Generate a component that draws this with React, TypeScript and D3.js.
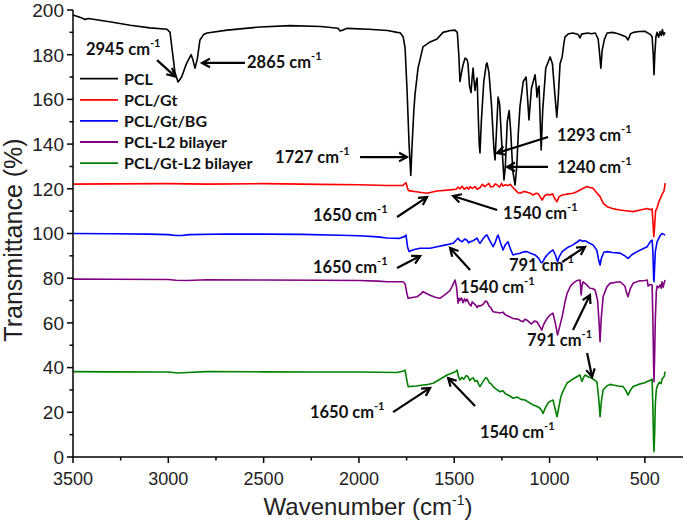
import React from 'react';
import * as d3 from 'd3';

const W = 685;
const H = 521;

const xTicks = [3500, 3000, 2500, 2000, 1500, 1000, 500];
const xMinor = [3250, 2750, 2250, 1750, 1250, 750];
const yTicks = [0, 20, 40, 60, 80, 100, 120, 140, 160, 180, 200];
const yMinor = [10, 30, 50, 70, 90, 110, 130, 150, 170, 190];

const seriesNames = ['PCL', 'PCL/Gt', 'PCL/Gt/BG', 'PCL-L2 bilayer', 'PCL/Gt-L2 bilayer'];
const seriesColors = ['#000000', '#ff0000', '#0000ff', '#800080', '#008000'];

type P = [number, number];

const pcl: P[] = [
  [3500, 197.8], [3460, 196.6], [3437, 195.8], [3420, 196.2], [3300, 194.6], [3200, 193.2], [3096, 192], [3007, 191.4],
  [2991, 190], [2981, 183], [2965, 172], [2949, 167.8], [2930, 170], [2905, 176], [2880, 180], [2872, 178],
  [2860, 174], [2848, 178], [2834, 186.6], [2815, 189], [2797, 189.7], [2692, 191], [2519, 192.4], [2361, 193],
  [2200, 192.6], [2110, 191.8], [2099, 190.6], [2080, 191.2], [2062, 191.8], [1950, 191.4], [1850, 190.8],
  [1800, 190], [1784, 189.8], [1768, 188], [1758, 183], [1748, 165], [1737, 140], [1728, 126], [1721, 140],
  [1712, 155], [1706, 162], [1690, 174], [1664, 183.5], [1627, 185.7], [1590, 187], [1559, 190], [1520, 190.8],
  [1496, 191], [1484, 190], [1476, 180], [1470, 168], [1462, 172], [1454, 175.4], [1443, 178.5], [1433, 177.8],
  [1428, 176], [1420, 166], [1412, 163], [1406, 170], [1401, 174], [1396, 168], [1391, 164], [1385, 168],
  [1380, 169.6], [1375, 155], [1369, 140], [1365, 136], [1358, 150], [1345, 168], [1332, 175.8], [1328, 176.3],
  [1318, 172], [1305, 158], [1292, 138], [1286, 132.9], [1279, 145], [1270, 161], [1262, 158], [1252, 142],
  [1239, 124], [1232, 130], [1222, 150], [1212, 155], [1204, 146], [1193, 128], [1181, 121.7], [1172, 130],
  [1164, 145], [1155, 157], [1138, 168], [1123, 170], [1115, 160], [1108, 150.8], [1095, 165], [1076, 171],
  [1070, 166], [1066, 161], [1060, 165], [1055, 166], [1049, 150], [1044, 137.4], [1036, 155], [1020, 174],
  [997, 179], [985, 176], [972, 162], [962, 152], [955, 160], [945, 176], [934, 179], [925, 185], [919, 188],
  [900, 189.4], [877, 189.7], [850, 189], [840, 187.5], [832, 189.2], [800, 189.7], [780, 189.4], [760, 189.7],
  [745, 187], [737, 180], [731, 174], [724, 182], [712, 187], [698, 189.7], [670, 190], [640, 189.4],
  [600, 188], [588, 186.6], [575, 189.4], [560, 190], [530, 190.4], [500, 190.5], [470, 189], [462, 188],
  [456, 180], [452, 171], [448, 180], [442, 188], [436, 190], [428, 187.8], [420, 190.4], [414, 188.6],
  [408, 191.2], [402, 188.8], [394, 190]
];

const pclGt: P[] = [
  [3500, 122.1], [3300, 122.2], [3000, 122.3], [2800, 122.1], [2500, 122.3], [2200, 122], [2000, 121.8],
  [1853, 121.5], [1769, 121.5], [1758, 122.4], [1753, 122.7], [1746, 120.5], [1740, 119.2], [1700, 118.7],
  [1643, 118], [1590, 119], [1522, 119.5], [1490, 119.8], [1480, 120.8], [1470, 120], [1459, 121.2],
  [1448, 119.8], [1433, 120.7], [1424, 119.8], [1417, 121], [1405, 120.2], [1390, 121], [1380, 119.8],
  [1365, 120.5], [1352, 122], [1340, 121], [1318, 122.4], [1310, 120.8], [1296, 121], [1285, 122.2],
  [1275, 121.7], [1262, 120.8], [1252, 122.4], [1244, 121.2], [1232, 121.8], [1218, 121.5], [1205, 122],
  [1197, 121], [1180, 119.5], [1165, 118.2], [1155, 118], [1135, 118.8], [1118, 118.5], [1100, 118],
  [1087, 117.2], [1070, 118], [1060, 117.8], [1050, 116.5], [1039, 115], [1025, 117], [1013, 117.5],
  [997, 117.2], [985, 117.8], [975, 116], [961, 114.2], [950, 116.5], [934, 117.2], [910, 117.6],
  [877, 118], [860, 118.6], [840, 119.5], [815, 120.6], [803, 121], [790, 120.6], [772, 120.3],
  [755, 118.5], [735, 116.5], [718, 113.5], [698, 112], [670, 111.2], [650, 110.8], [630, 110.5],
  [600, 110.2], [562, 109.8], [530, 110.4], [500, 111], [488, 111.2], [470, 110.6], [462, 111],
  [457, 104], [453, 98.6], [449, 103], [444, 110], [436, 111.5], [425, 114.5], [410, 117.5], [400, 119],
  [396, 121], [394, 122.5]
];

const pclGtBg: P[] = [
  [3500, 100], [3300, 99.9], [3100, 99.7], [3000, 99.5], [2960, 99.1], [2930, 99.1], [2890, 99.5],
  [2700, 99.8], [2500, 99.7], [2300, 99.6], [2100, 99.2], [2000, 99], [1900, 98.5], [1853, 98],
  [1790, 97.8], [1762, 98.6], [1753, 99.3], [1745, 94], [1737, 91.9], [1710, 92.8], [1679, 93.4],
  [1627, 93.4], [1590, 94.1], [1550, 94.8], [1522, 95.3], [1506, 95.6], [1490, 97], [1480, 97.9],
  [1470, 96.8], [1459, 96.3], [1445, 97.5], [1433, 97], [1425, 95.8], [1417, 96.3], [1400, 96.8],
  [1390, 97.4], [1380, 97.9], [1372, 96.5], [1365, 95.6], [1350, 97.5], [1335, 99.1], [1328, 99.3],
  [1315, 97], [1296, 94.1], [1285, 96], [1275, 98.6], [1270, 99.3], [1258, 96], [1244, 92.6],
  [1232, 95], [1218, 96.3], [1205, 93], [1192, 90.4], [1175, 90.8], [1155, 91.2], [1135, 91.8],
  [1118, 91.9], [1100, 91.2], [1076, 90.4], [1058, 89], [1044, 87], [1039, 86.9], [1025, 89],
  [1013, 90.4], [997, 91.8], [982, 92.6], [970, 90.5], [958, 87.4], [950, 89.5], [934, 91.9],
  [910, 93.5], [877, 94.9], [855, 96.2], [840, 97.1], [825, 96.5], [815, 96.8], [803, 96.3],
  [790, 95.6], [772, 94.9], [752, 92.5], [742, 88], [735, 85.9], [728, 89], [715, 91.6], [698, 91.9],
  [670, 91.5], [630, 91.2], [605, 90], [588, 88.9], [570, 90.4], [541, 91.9], [510, 93.2], [488, 94.1],
  [470, 96.5], [462, 97.1], [458, 92], [454, 80], [452, 78.4], [449, 85], [445, 92], [436, 96.3],
  [420, 99], [410, 100], [400, 99.6], [394, 99.3]
];

const pclL2: P[] = [
  [3500, 79.6], [3300, 79.5], [3000, 79.4], [2960, 79.1], [2900, 79], [2800, 79.3], [2500, 79.2],
  [2200, 79.1], [2000, 79], [1900, 78.7], [1853, 78.4], [1769, 78.4], [1758, 77.5], [1748, 73],
  [1742, 71], [1720, 71.4], [1695, 71.7], [1675, 73], [1664, 74], [1650, 73.4], [1627, 72.4],
  [1600, 71.5], [1575, 71], [1550, 72.5], [1522, 74.5], [1505, 77.5], [1496, 79.2], [1488, 76],
  [1480, 68.8], [1474, 71], [1470, 70], [1462, 71.2], [1454, 69], [1446, 70.8], [1440, 69.6],
  [1433, 70.6], [1422, 68.6], [1412, 67.6], [1406, 69.4], [1401, 69], [1390, 68.2], [1380, 66.9],
  [1372, 67.8], [1365, 67.5], [1350, 68.2], [1336, 69.8], [1328, 69.5], [1318, 67.6], [1310, 67],
  [1296, 65], [1280, 64.8], [1260, 64.4], [1245, 64.8], [1230, 63.5], [1210, 62.8], [1192, 62],
  [1175, 61.8], [1160, 61.5], [1150, 60.8], [1139, 60.5], [1130, 61.6], [1118, 61.2], [1105, 60.2],
  [1095, 59.5], [1080, 60.8], [1066, 60.5], [1050, 58.2], [1041, 56.8], [1030, 59.5], [1013, 62],
  [997, 63.6], [982, 64.4], [970, 60], [958, 54.6], [948, 58], [934, 62.8], [920, 69], [908, 73.2],
  [890, 76.5], [877, 77.7], [855, 79], [840, 79.2], [837, 76], [834, 72.5], [830, 76.5], [824, 78.4],
  [805, 77], [788, 75.5], [775, 75.4], [761, 74.7], [748, 70], [740, 60], [735, 51.6], [729, 62],
  [719, 71.7], [700, 76], [683, 77.7], [650, 78.2], [630, 78.4], [605, 76.5], [595, 73.2], [588, 71.7],
  [578, 75], [562, 77.7], [530, 78.8], [500, 79], [488, 79.2], [483, 76.5], [472, 77.2], [462, 77],
  [458, 62], [454, 40], [452, 33.7], [449, 45], [445, 62], [440, 74], [436, 76.5], [428, 75.8],
  [420, 77], [414, 75.5], [410, 78.4], [404, 76], [400, 77.5], [394, 79.2]
];

const pclGtL2: P[] = [
  [3500, 38.2], [3300, 38.1], [3000, 38], [2950, 37.6], [2900, 37.8], [2800, 38.2], [2500, 38.1],
  [2200, 38], [2000, 38], [1800, 37.8], [1765, 38.5], [1758, 38.9], [1750, 35], [1742, 31.5],
  [1700, 31.8], [1664, 32.2], [1640, 32.4], [1611, 33], [1575, 34.8], [1538, 36.7], [1510, 37.6],
  [1490, 38.4], [1485, 38.9], [1478, 36], [1470, 34.5], [1460, 35.6], [1450, 34.8], [1438, 36.4],
  [1428, 36], [1418, 34.2], [1410, 35], [1400, 35.4], [1391, 33.8], [1380, 34.2], [1372, 32.5],
  [1365, 31.5], [1350, 33.6], [1336, 35.4], [1328, 35.2], [1315, 33.2], [1305, 32.6], [1296, 31.5],
  [1280, 30.4], [1260, 29.2], [1245, 29.6], [1230, 28.2], [1210, 27.4], [1192, 26.3], [1170, 26.8],
  [1150, 25.8], [1129, 25.5], [1115, 24.8], [1100, 24], [1087, 23.3], [1070, 22.8], [1050, 21.8],
  [1040, 20.5], [1034, 19.5], [1025, 21.5], [1008, 24.2], [995, 25], [982, 25.5], [972, 22],
  [961, 18], [952, 22], [942, 26.5], [934, 28.6], [920, 31], [908, 33.1], [890, 34.2], [877, 34.9],
  [855, 36], [840, 36.7], [835, 35], [830, 33.8], [822, 35.5], [814, 36.7], [795, 35.8], [785, 35.5],
  [772, 34.9], [760, 34.2], [751, 33.4], [742, 26], [735, 18], [728, 25], [719, 30], [700, 31.8],
  [683, 32.5], [667, 32.2], [640, 31.8], [614, 31.5], [600, 29.8], [588, 27.7], [575, 30], [562, 31.5],
  [530, 32.6], [500, 33.2], [488, 33.8], [470, 34.3], [462, 34.9], [458, 22], [454, 6], [452, 2.4],
  [449, 10], [445, 24], [440, 30], [436, 31.5], [425, 33.4], [415, 32.8], [410, 34.9], [403, 35.6],
  [398, 36.2], [394, 38.2]
];

const seriesData: P[][] = [pcl, pclGt, pclGtBg, pclL2, pclGtL2];

// annotations in data units: label, text anchor point (left, baseline), arrows [from, to]
const annLabels = ['2945', '2865', '1727', '1293', '1240', '1650', '1540', '1650', '1540', '791', '791', '1650', '1540'];
const annText: P[] = [
  [3432, 179.9], [2587, 174], [2440, 131.5], [961, 141.4], [961, 127], [2241, 105.6], [1244, 106.5],
  [2241, 82.3], [1470, 73.6], [1213, 83.2], [1118, 49.7], [2257, 17.4], [1365, 8.5]
];
const annArrows: [P, P][][] = [
  [[[3059, 177.6], [2965, 170.3]]],
  [[[2598, 176.3], [2823, 176.3]]],
  [[[1994, 134.2], [1748, 134.2]]],
  [[[1008, 143.2], [1275, 136]]],
  [[[1008, 129.8], [1223, 129.8]]],
  [[[1800, 107.4], [1643, 116.3]]],
  [[[1275, 110.5], [1506, 116.8]]],
  [[[1800, 84.6], [1679, 89.9]]],
  [[[1417, 83.7], [1522, 93.5]]],
  [[[934, 87.2], [814, 94]]],
  [[[877, 56.8], [788, 72.5]], [[803, 46.5], [777, 35.8]]],
  [[[1821, 20.1], [1627, 30.9]]],
  [[[1391, 22.8], [1532, 35.3]]]
];

const axisFont = '"Liberation Sans", Arial, sans-serif';
const annFont = 'Lato, "Open Sans", sans-serif';

export default function App() {
  const x = d3.scaleLinear().domain([3500, 300]).range([73, 683]);
  const y = d3.scaleLinear().domain([0, 200]).range([457, 10]);
  const line = d3.line<P>().x(d => x(d[0])).y(d => y(d[1]));

  const arrowHead = (from: P, to: P) => {
    const x1 = x(from[0]), y1 = y(from[1]), x2 = x(to[0]), y2 = y(to[1]);
    const a = Math.atan2(y2 - y1, x2 - x1);
    const L = 9, s = 0.5;
    const p1 = [x2 - L * Math.cos(a - s), y2 - L * Math.sin(a - s)];
    const p2 = [x2 - L * Math.cos(a + s), y2 - L * Math.sin(a + s)];
    return `M${p1[0]},${p1[1]}L${x2},${y2}L${p2[0]},${p2[1]}`;
  };

  return (
    <svg width={W} height={H} style={{ position: 'absolute', left: 0, top: 0, background: '#fff' }}>
      {/* series */}
      {seriesData.map((d, i) => (
        <path key={i} d={line(d) || ''} fill="none" stroke={seriesColors[i]} strokeWidth={1.6} strokeLinejoin="round" />
      ))}

      {/* axes */}
      <line x1={x(3500)} x2={x(3500)} y1={y(200)} y2={y(0)} stroke="#000" strokeWidth={1.5} />
      <line x1={x(3500)} x2={x(300)} y1={y(0)} y2={y(0)} stroke="#000" strokeWidth={1.5} />
      {yTicks.map(t => (
        <g key={'y' + t}>
          <line x1={x(3500) - 6} x2={x(3500)} y1={y(t)} y2={y(t)} stroke="#000" strokeWidth={1.5} />
          <text x={x(3500) - 9} y={y(t)} dy="0.36em" textAnchor="end" fontFamily={axisFont} fontSize={19} fill="#222">{t}</text>
        </g>
      ))}
      {yMinor.map(t => (
        <line key={'ym' + t} x1={x(3500) - 3.5} x2={x(3500)} y1={y(t)} y2={y(t)} stroke="#000" strokeWidth={1.5} />
      ))}
      {xTicks.map(t => (
        <g key={'x' + t}>
          <line x1={x(t)} x2={x(t)} y1={y(0)} y2={y(0) + 6} stroke="#000" strokeWidth={1.5} />
          <text x={x(t)} y={y(0) + 28} textAnchor="middle" fontFamily={axisFont} fontSize={18} fill="#222">{t}</text>
        </g>
      ))}
      {xMinor.map(t => (
        <line key={'xm' + t} x1={x(t)} x2={x(t)} y1={y(0)} y2={y(0) + 3.5} stroke="#000" strokeWidth={1.5} />
      ))}

      {/* axis titles */}
      <text x={368} y={515} textAnchor="middle" fontFamily={axisFont} fontSize={24} fill="#222">
        <tspan>Wavenumber (cm</tspan>
        <tspan fontSize={14} dy={-10}>-1</tspan>
        <tspan dy={10}>)</tspan>
      </text>
      <text transform="translate(22,240) rotate(-90)" textAnchor="middle" fontFamily={axisFont} fontSize={25} fill="#222">
        Transmittance (%)
      </text>

      {/* legend */}
      {seriesNames.map((n, i) => {
        const ly = 78.7 + i * 21.1;
        return (
          <g key={'lg' + i}>
            <line x1={80} x2={118} y1={ly} y2={ly} stroke={seriesColors[i]} strokeWidth={1.8} />
            <text x={124} y={ly + 6} fontFamily={annFont} fontWeight="bold" fontSize={16} fill="#111">{n}</text>
          </g>
        );
      })}

      {/* annotations */}
      {annLabels.map((lab, i) => (
        <g key={'an' + i}>
          <text x={x(annText[i][0])} y={y(annText[i][1])} fontFamily={annFont} fontWeight="bold" fontSize={16.5} fill="#111">
            <tspan>{lab} cm</tspan>
            <tspan fontSize={11} dy={-8}>-1</tspan>
          </text>
          {annArrows[i].map((ar, j) => (
            <g key={j}>
              <line x1={x(ar[0][0])} y1={y(ar[0][1])} x2={x(ar[1][0])} y2={y(ar[1][1])} stroke="#000" strokeWidth={2.2} />
              <path d={arrowHead(ar[0], ar[1])} fill="none" stroke="#000" strokeWidth={2.2} />
            </g>
          ))}
        </g>
      ))}
    </svg>
  );
}
